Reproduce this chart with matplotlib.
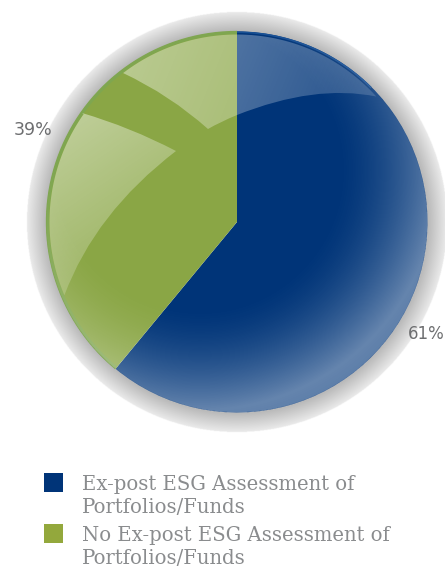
import numpy as np
import matplotlib
matplotlib.use("Agg")
import matplotlib.pyplot as plt
from matplotlib.patches import Rectangle, PathPatch
from matplotlib.path import Path

categories = ["Ex-post ESG Assessment of\nPortfolios/Funds",
              "No Ex-post ESG Assessment of\nPortfolios/Funds"]
values = [61, 39]
colors = ["#003478", "#8aa645"]
legend_colors = ["#003478", "#93a83c"]
value_labels = ["61%", "39%"]

W, H = 445, 568
CX, CY, R = 237, H - 222, 190.5
fig = plt.figure(figsize=(W / 100, H / 100), dpi=100)
ax = fig.add_axes([0, 0, 1, 1])

# pie
wedges, _ = ax.pie(values, colors=colors, startangle=90, counterclock=False,
                   center=(CX, CY), radius=R, frame=True,
                   wedgeprops=dict(linewidth=0))
ax.set_xlim(0, W)
ax.set_ylim(0, H)
ax.set_aspect("auto")
ax.axis("off")

yy, xx = np.mgrid[0:H * 2, 0:W * 2]
xx = xx / 2 + 0.25
yy = yy / 2 + 0.25
ext = (0, W, 0, H)
d = np.hypot(xx - CX, yy - CY)

# soft grey halo around the disc
RO = 210
t = np.clip((d - R) / (RO - R), 0, 1)
grey = 0.72 + (0.92 - 0.72) * t
halo = np.dstack([grey, grey, grey, ((d <= RO) & (d >= R - 2)).astype(float)])
ax.imshow(halo, extent=ext, origin="lower", zorder=0, aspect="auto", interpolation="bilinear")

# rim of the green wedge
theta = np.radians(np.linspace(90, 90 + 0.39 * 360, 200))
ax.plot(CX + (R - 1) * np.cos(theta), CY + (R - 1) * np.sin(theta), color="#7fa650", lw=2.4,
        zorder=1.5, solid_capstyle="butt")
theta = np.radians(np.linspace(90, 45, 60))
ax.plot(CX + (R - 0.7) * np.cos(theta), CY + (R - 0.7) * np.sin(theta), color="#174f94", lw=1.2,
        zorder=1.5, solid_capstyle="butt")

# off-centre glassy lightening towards the lower right rim
g = np.hypot((xx - 200), (yy - (H - 170)))
a = np.clip((g - 135) / (240 - 135), 0, 1) ** 1.6 * 0.40
a = np.where(g > 240, 0.40 - (g - 240) / 30 * 0.06, a)
a = np.where(d <= R, a, 0)
sheen = np.dstack([np.ones_like(a), np.ones_like(a), np.ones_like(a), a])
ax.imshow(sheen, extent=ext, origin="lower", zorder=2, aspect="auto", interpolation="bilinear")

# highlights
def py(y):
    return H - y

def rim(a0, a1, n=60, r=R - 3):
    ang = np.radians(np.linspace(a0, a1, n))
    return list(zip(CX + r * np.cos(ang), CY + r * np.sin(ang)))

def angle(x, y):
    return np.degrees(np.arctan2(py(y) - CY, x - CX)) % 360

def gloss(rim_pts, curves, x0, y0, x1, y1, a0, a1):
    verts = list(rim_pts)
    codes = [Path.MOVETO] + [Path.LINETO] * (len(verts) - 1)
    for c, e in curves:
        verts += [(c[0], py(c[1])), (e[0], py(e[1]))]
        codes += [Path.CURVE3, Path.CURVE3]
    verts.append(verts[0])
    codes.append(Path.CLOSEPOLY)
    clip = PathPatch(Path(verts, codes), transform=ax.transData, fc="none", ec="none")
    ax.add_patch(clip)
    s = ((xx - x0) * (x1 - x0) + (yy - py(y0)) * (py(y1) - py(y0))) / ((x1 - x0) ** 2 + (py(y1) - py(y0)) ** 2)
    al = a0 + (a1 - a0) * np.clip(s, 0, 1)
    im = ax.imshow(np.dstack([np.ones_like(al)] * 3 + [al]), extent=ext, origin="lower",
                   zorder=3, aspect="auto", interpolation="bilinear")
    im.set_clip_path(clip)

# top highlight
gloss(rim(angle(123, 73), angle(378, 95)),
      [((315, 84), (237, 115)), ((220, 122), (208, 129)), ((170, 95), (123, 73))],
      120, 40, 390, 150, 0.42, 0.12)
# left highlight
gloss(rim(angle(82, 113), angle(65, 295)),
      [((95, 213), (176, 151)), ((130, 127), (82, 113))],
      60, 120, 170, 280, 0.46, 0.10)

# value labels
ax.text(52, py(130), value_labels[1], color="#6d6e70", fontsize=12.5, ha="right", va="center",
        family="DejaVu Sans", zorder=5)
ax.text(445, py(334), value_labels[0], color="#6d6e70", fontsize=12, ha="right", va="center",
        family="DejaVu Sans", zorder=5)

# legend
box_tops = [473, 524]
for lab, col, top in zip(categories, legend_colors, box_tops):
    ax.add_patch(Rectangle((44, py(top + 19)), 19, 19, fc=col, ec="none", zorder=5))
    ax.text(82, py(top + 2), lab, color="#8a8c8e", fontsize=14.1, family="DejaVu Serif",
            va="top", ha="left", linespacing=1.28, zorder=5)

fig.savefig("out.png", dpi=100, facecolor="white")
